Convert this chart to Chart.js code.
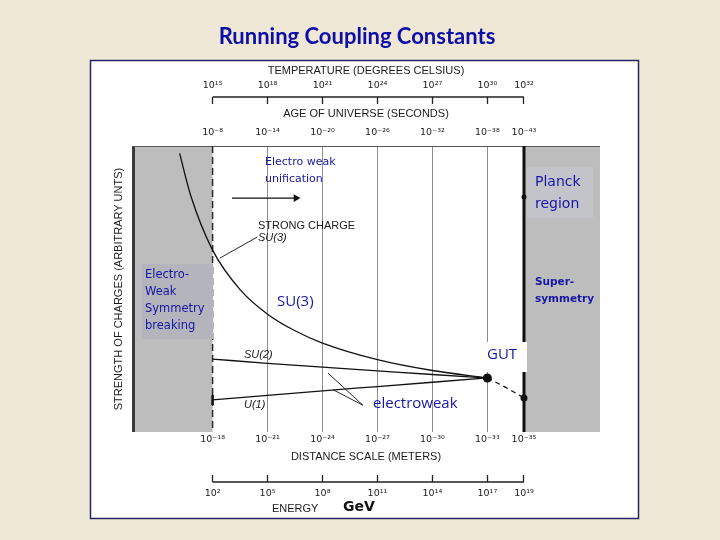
<!DOCTYPE html>
<html>
<head>
<meta charset="utf-8">
<script src="https://cdn.jsdelivr.net/npm/chart.js"></script>
<style>
  html, body { margin: 0; padding: 0; background: #efe8d6; }
</style>
</head>
<body>
<canvas id="chart" width="720" height="540"></canvas>
<script>
// positions of the ticks on the distance axis (minus exponent of metres)
const tickPos = [18, 21, 24, 27, 30, 33, 35]
const distanceLabels = ['10⁻¹⁸', '10⁻²¹', '10⁻²⁴', '10⁻²⁷', '10⁻³⁰', '10⁻³³', '10⁻³⁵']
const energyLabels = ['10²', '10⁵', '10⁸', '10¹¹', '10¹⁴', '10¹⁷', '10¹⁹']
const tempLabels = ['10¹⁵', '10¹⁸', '10²¹', '10²⁴', '10²⁷', '10³⁰', '10³²']
const ageLabels = ['10⁻⁸', '10⁻¹⁴', '10⁻²⁰', '10⁻²⁶', '10⁻³²', '10⁻³⁸', '10⁻⁴³']

// coupling curves (arbitrary strength units)
const strongX = [16.2, 16.8, 18, 19.5, 21, 22.5, 24, 27, 30, 33]
const strongY = [97.4, 82.8, 63.6, 49.8, 41.2, 35.4, 31.1, 25.3, 21.5, 18.9]
const su2X = [18, 21, 24, 27, 30, 33]
const su2Y = [25.5, 24.0, 22.7, 21.4, 20.1, 18.9]
const u1X = [18, 21, 24, 27, 30, 33]
const u1Y = [11.2, 12.8, 14.4, 15.9, 17.4, 18.9]
const dashX = [33, 34, 35]
const dashY = [18.9, 15.6, 11.9]
const gutX = [33], gutY = [18.9]

// pointer lines and arrow
const arrowX = [19.06, 22.55], arrowY = [81.8, 81.8]
const strongPtrX = [18.4, 20.45], strongPtrY = [60.8, 68.2]
const ewPtr1X = [24.3, 26.2], ewPtr1Y = [20.6, 9.4]
const ewPtr2X = [24.6, 26.2], ewPtr2Y = [14.7, 9.4]

const X_MIN = 13.6, X_MAX = 39.15

function pts(xs, ys) {
    return xs.map((x, i) => ({ x: x, y: ys[i] }))
}

function setTicks(scale) {
    scale.ticks = tickPos.map(v => ({ value: v }))
}

function fixHeight(h) {
    return function (scale) { scale.height = h }
}

const figFont = '"Liberation Sans", Arial, sans-serif'
const tickFont = { size: 9.5, family: '"DejaVu Sans", sans-serif' }
const ink = '#1b1b1b'
const blue = '#1616a6'

const decor = {
    id: 'decor',
    beforeDraw(chart) {
        const c = chart.ctx
        c.save()
        c.fillStyle = '#efe8d6'
        c.fillRect(0, 0, 720, 540)
        c.fillStyle = '#ffffff'
        c.fillRect(90, 60, 548, 458)
        c.strokeStyle = '#25255f'
        c.lineWidth = 1.5
        c.strokeRect(90.5, 60.5, 548, 458)
        c.fillStyle = '#0d0da8'
        c.font = 'bold 22px Lato, sans-serif'
        c.textAlign = 'center'
        c.textBaseline = 'middle'
        c.fillText('Running Coupling Constants', 357, 37)
        c.restore()
    },
    beforeDatasetsDraw(chart) {
        const c = chart.ctx, a = chart.chartArea, x = chart.scales.x
        const xl = x.getPixelForValue(18), xr = x.getPixelForValue(35)
        c.save()
        c.fillStyle = '#bdbdbd'
        c.fillRect(a.left, a.top, xl - a.left, a.bottom - a.top)
        c.fillRect(xr, a.top, a.right - xr, a.bottom - a.top)
        // dark edge on the far left
        c.fillStyle = '#3a3a3a'
        c.fillRect(a.left, a.top, 3, a.bottom - a.top)
        // top edge
        c.strokeStyle = '#555'
        c.lineWidth = 1
        c.beginPath()
        c.moveTo(a.left, a.top + 0.5)
        c.lineTo(a.right, a.top + 0.5)
        c.stroke()
        // dashed line at electroweak scale
        c.strokeStyle = '#2a2a2a'
        c.lineWidth = 1.5
        c.setLineDash([7, 4])
        c.beginPath()
        c.moveTo(xl, a.top)
        c.lineTo(xl, a.bottom)
        c.stroke()
        c.setLineDash([])
        // Planck wall
        c.strokeStyle = '#111'
        c.lineWidth = 3
        c.beginPath()
        c.moveTo(xr, a.top)
        c.lineTo(xr, a.bottom)
        c.stroke()
        c.restore()
    },
    afterDraw(chart) {
        const c = chart.ctx
        const t = chart.scales.xTemp, e = chart.scales.xEnergy
        c.save()
        // axis lines of temperature and energy
        c.strokeStyle = '#222'
        c.lineWidth = 1.5
        c.beginPath()
        c.moveTo(t.getPixelForValue(18), t.bottom - 7)
        c.lineTo(t.getPixelForValue(35), t.bottom - 7)
        c.moveTo(e.getPixelForValue(18), e.top + 7)
        c.lineTo(e.getPixelForValue(35), e.top + 7)
        c.stroke()

        c.textBaseline = 'middle'
        c.textAlign = 'left'
        c.fillStyle = ink
        c.font = '11px ' + figFont
        c.fillText('ENERGY', 272, 509)
        c.font = 'bold 14px "DejaVu Sans", sans-serif'
        c.fillStyle = '#111'
        c.fillText('GeV', 343, 507)

        // figure labels
        c.fillStyle = ink
        c.font = '11px ' + figFont
        c.fillText('STRONG CHARGE', 258, 226)
        c.font = 'italic 11px ' + figFont
        c.fillText('SU(3)', 258, 238)
        c.fillText('SU(2)', 244, 355)
        c.fillText('U(1)', 244, 405)

        // grey boxes
        c.fillStyle = '#b4b4bc'
        c.fillRect(142, 264, 71, 75)
        c.fillStyle = '#c3c3ca'
        c.fillRect(527, 167, 66, 51)
        // white patch for GUT
        c.fillStyle = '#ffffff'
        c.fillRect(480, 342, 47, 30)

        c.fillStyle = blue
        c.font = '11px "DejaVu Sans", sans-serif'
        c.fillText('Electro weak', 265, 162)
        c.fillText('unification', 265, 179)
        c.font = '11.5px "DejaVu Sans", sans-serif'
        c.fillText('Electro-', 145, 275)
        c.fillText('Weak', 145, 292)
        c.fillText('Symmetry', 145, 309)
        c.fillText('breaking', 145, 326)
        c.font = '14px "DejaVu Sans", sans-serif'
        c.fillText('Planck', 535, 182)
        c.fillText('region', 535, 204)
        c.font = 'bold 10.5px "DejaVu Sans", sans-serif'
        c.fillText('Super-', 535, 282)
        c.fillText('symmetry', 535, 299)
        c.font = '15px "Open Sans", sans-serif'
        c.fillText('SU(3)', 277, 302)
        c.fillText('GUT', 487, 355)
        c.fillText('electroweak', 373, 404)
        c.restore()
    }
}

const line = (data, extra) => Object.assign({
    data: data,
    borderColor: '#111',
    borderWidth: 1.3,
    pointRadius: 0,
    fill: false
}, extra || {})

new Chart(document.getElementById('chart'), {
    type: 'line',
    data: {
        datasets: [
            line(pts(strongX, strongY), { cubicInterpolationMode: 'monotone' }),
            line(pts(su2X, su2Y), { cubicInterpolationMode: 'monotone' }),
            line(pts(u1X, u1Y), { cubicInterpolationMode: 'monotone' }),
            line(pts(dashX, dashY), { borderDash: [5, 4], cubicInterpolationMode: 'monotone',
                pointRadius: [0, 0, 3.5], pointBackgroundColor: '#111', pointBorderWidth: 0 }),
            line(pts(gutX, gutY), { pointRadius: 4.5, pointBackgroundColor: '#111', pointBorderWidth: 0 }),
            line(pts([35], [82.2]), { pointRadius: 2.5, pointBackgroundColor: '#111', pointBorderWidth: 0 }),
            line(pts([18], [11.2]), { pointRadius: 5, pointStyle: 'line', pointRotation: 90, pointBorderWidth: 2.5, pointBorderColor: '#111' }),
            line(pts(arrowX, arrowY), { pointRadius: [0, 4.5], pointStyle: 'triangle', pointRotation: 90,
                pointBackgroundColor: '#111', pointBorderColor: '#111', pointBorderWidth: 0 }),
            line(pts(strongPtrX, strongPtrY), { borderWidth: 0.9 }),
            line(pts(ewPtr1X, ewPtr1Y), { borderWidth: 0.9 }),
            line(pts(ewPtr2X, ewPtr2Y), { borderWidth: 0.9 })
        ]
    },
    options: {
        responsive: false,
        animation: false,
        layout: { padding: { top: 60, left: 100, right: 120, bottom: 22 } },
        plugins: { legend: { display: false }, tooltip: { enabled: false }, title: { display: false } },
        scales: {
            x: {
                type: 'linear', position: 'bottom', weight: 0, min: X_MIN, max: X_MAX,
                afterBuildTicks: setTicks, afterFit: fixHeight(43),
                grid: {
                    drawTicks: false, lineWidth: 1,
                    color: ctx => (ctx.tick && (ctx.tick.value === 18 || ctx.tick.value === 35)) ? 'rgba(0,0,0,0)' : '#8c8c8c'
                },
                border: { display: false },
                ticks: { autoSkip: false, maxRotation: 0, padding: 2, color: ink,
                    font: tickFont, callback: (v, i) => distanceLabels[i] },
                title: { display: true, text: 'DISTANCE SCALE (METERS)', color: ink,
                    font: { size: 11, family: figFont }, padding: { top: 0, bottom: 11 } }
            },
            xEnergy: {
                type: 'linear', position: 'bottom', weight: 1, min: X_MIN, max: X_MAX,
                afterBuildTicks: setTicks, afterFit: fixHeight(43),
                grid: { drawOnChartArea: false, drawTicks: true, tickLength: 7, tickColor: '#222', tickWidth: 1.3 },
                border: { display: false },
                ticks: { autoSkip: false, maxRotation: 0, padding: 6, color: ink,
                    font: tickFont, callback: (v, i) => energyLabels[i] }
            },
            xAge: {
                type: 'linear', position: 'top', weight: 0, min: X_MIN, max: X_MAX,
                afterBuildTicks: setTicks, afterFit: fixHeight(42),
                grid: { drawOnChartArea: false, drawTicks: false },
                border: { display: false },
                ticks: { autoSkip: false, maxRotation: 0, padding: 8, color: ink,
                    font: tickFont, callback: (v, i) => ageLabels[i] },
                title: { display: true, text: 'AGE OF UNIVERSE (SECONDS)', color: ink,
                    font: { size: 11, family: figFont }, padding: { top: 3, bottom: 0 } }
            },
            xTemp: {
                type: 'linear', position: 'top', weight: 1, min: X_MIN, max: X_MAX,
                afterBuildTicks: setTicks, afterFit: fixHeight(44),
                grid: { drawOnChartArea: false, drawTicks: true, tickLength: 7, tickColor: '#222', tickWidth: 1.3 },
                border: { display: false },
                ticks: { autoSkip: false, maxRotation: 0, padding: 6, color: ink,
                    font: tickFont, callback: (v, i) => tempLabels[i] },
                title: { display: true, text: 'TEMPERATURE (DEGREES CELSIUS)', color: ink,
                    font: { size: 11, family: figFont }, padding: { top: 4, bottom: 0 } }
            },
            y: {
                type: 'linear', position: 'left', min: 0, max: 100,
                afterFit: function (scale) { scale.width = 32 },
                grid: { display: false },
                border: { display: false },
                ticks: { display: false },
                title: { display: true, text: 'STRENGTH OF CHARGES (ARBITRARY UNTS)', color: ink,
                    font: { size: 11, family: figFont }, padding: { top: 12, bottom: 0 } }
            }
        }
    },
    plugins: [decor]
})
</script>
</body>
</html>
